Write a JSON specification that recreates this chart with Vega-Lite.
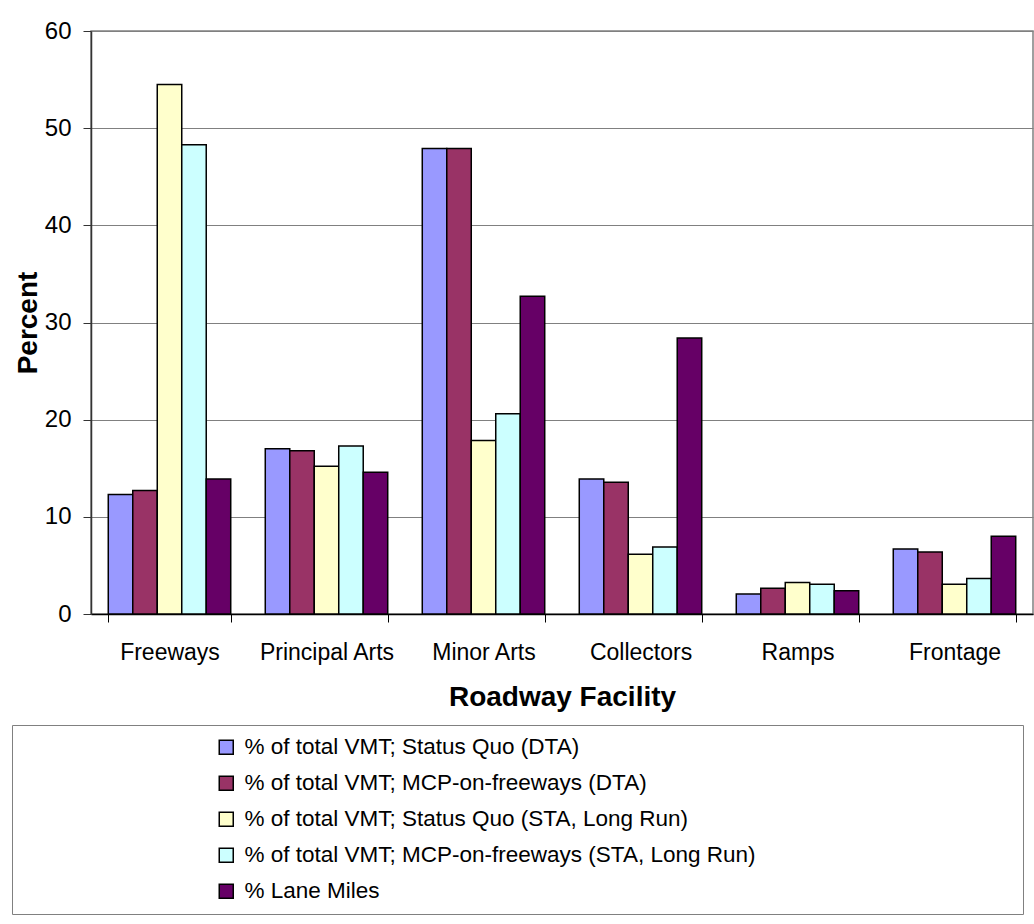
{
  "$schema": "https://vega.github.io/schema/vega-lite/v6.json",
  "autosize": "none",
  "padding": {"left": 91, "top": 31, "right": 1, "bottom": 310},
  "width": 942,
  "height": 583,
  "background": "white",
  "config": {
    "font": "Liberation Sans",
    "view": {"stroke": "#808080", "strokeWidth": 1.5}
  },
  "data": {
    "values": [
      {"facility": "Freeways", "series": "% of total VMT; Status Quo (DTA)", "value": 12.3},
      {"facility": "Freeways", "series": "% of total VMT; MCP-on-freeways (DTA)", "value": 12.7},
      {"facility": "Freeways", "series": "% of total VMT; Status Quo (STA, Long Run)", "value": 54.5},
      {"facility": "Freeways", "series": "% of total VMT; MCP-on-freeways (STA, Long Run)", "value": 48.3},
      {"facility": "Freeways", "series": "% Lane Miles", "value": 13.9},
      {"facility": "Principal Arts", "series": "% of total VMT; Status Quo (DTA)", "value": 17.0},
      {"facility": "Principal Arts", "series": "% of total VMT; MCP-on-freeways (DTA)", "value": 16.8},
      {"facility": "Principal Arts", "series": "% of total VMT; Status Quo (STA, Long Run)", "value": 15.2},
      {"facility": "Principal Arts", "series": "% of total VMT; MCP-on-freeways (STA, Long Run)", "value": 17.3},
      {"facility": "Principal Arts", "series": "% Lane Miles", "value": 14.6},
      {"facility": "Minor Arts", "series": "% of total VMT; Status Quo (DTA)", "value": 47.9},
      {"facility": "Minor Arts", "series": "% of total VMT; MCP-on-freeways (DTA)", "value": 47.9},
      {"facility": "Minor Arts", "series": "% of total VMT; Status Quo (STA, Long Run)", "value": 17.85},
      {"facility": "Minor Arts", "series": "% of total VMT; MCP-on-freeways (STA, Long Run)", "value": 20.6},
      {"facility": "Minor Arts", "series": "% Lane Miles", "value": 32.7},
      {"facility": "Collectors", "series": "% of total VMT; Status Quo (DTA)", "value": 13.9},
      {"facility": "Collectors", "series": "% of total VMT; MCP-on-freeways (DTA)", "value": 13.55},
      {"facility": "Collectors", "series": "% of total VMT; Status Quo (STA, Long Run)", "value": 6.15},
      {"facility": "Collectors", "series": "% of total VMT; MCP-on-freeways (STA, Long Run)", "value": 6.9},
      {"facility": "Collectors", "series": "% Lane Miles", "value": 28.4},
      {"facility": "Ramps", "series": "% of total VMT; Status Quo (DTA)", "value": 2.05},
      {"facility": "Ramps", "series": "% of total VMT; MCP-on-freeways (DTA)", "value": 2.64},
      {"facility": "Ramps", "series": "% of total VMT; Status Quo (STA, Long Run)", "value": 3.23},
      {"facility": "Ramps", "series": "% of total VMT; MCP-on-freeways (STA, Long Run)", "value": 3.07},
      {"facility": "Ramps", "series": "% Lane Miles", "value": 2.4},
      {"facility": "Frontage", "series": "% of total VMT; Status Quo (DTA)", "value": 6.7},
      {"facility": "Frontage", "series": "% of total VMT; MCP-on-freeways (DTA)", "value": 6.38},
      {"facility": "Frontage", "series": "% of total VMT; Status Quo (STA, Long Run)", "value": 3.07},
      {"facility": "Frontage", "series": "% of total VMT; MCP-on-freeways (STA, Long Run)", "value": 3.66},
      {"facility": "Frontage", "series": "% Lane Miles", "value": 8.0}
    ]
  },
  "mark": {"type": "bar", "stroke": "black", "strokeWidth": 1.5, "opacity": 1},
  "encoding": {
    "x": {
      "field": "facility",
      "type": "nominal",
      "sort": ["Freeways", "Principal Arts", "Minor Arts", "Collectors", "Ramps", "Frontage"],
      "scale": {"paddingInner": 0.22, "paddingOuter": 0.11},
      "axis": {
        "title": "Roadway Facility",
        "titleFont": "Liberation Sans",
        "titleFontSize": 28,
        "titleFontWeight": "bold",
        "titleColor": "black",
        "titlePadding": 19,
        "labelFont": "Liberation Sans",
        "labelFontSize": 23,
        "labelColor": "black",
        "labelAngle": 0,
        "labelPadding": 19,
        "domainColor": "black",
        "domainWidth": 1.5,
        "tickColor": "black",
        "tickSize": 8,
        "tickBand": "extent",
        "grid": false
      }
    },
    "xOffset": {
      "field": "series",
      "type": "nominal",
      "sort": [
        "% of total VMT; Status Quo (DTA)",
        "% of total VMT; MCP-on-freeways (DTA)",
        "% of total VMT; Status Quo (STA, Long Run)",
        "% of total VMT; MCP-on-freeways (STA, Long Run)",
        "% Lane Miles"
      ],
      "scale": {"paddingInner": 0, "paddingOuter": 0}
    },
    "y": {
      "field": "value",
      "type": "quantitative",
      "scale": {"domain": [0, 60], "nice": false},
      "axis": {
        "title": "Percent",
        "titleFont": "Liberation Sans",
        "titleFontSize": 28,
        "titleFontWeight": "bold",
        "titleColor": "black",
        "titlePadding": 2,
        "labelFont": "Liberation Sans",
        "labelFontSize": 24,
        "labelColor": "black",
        "labelPadding": 12,
        "values": [0, 10, 20, 30, 40, 50, 60],
        "domainColor": "#333333",
        "domainWidth": 1.5,
        "tickColor": "#333333",
        "tickSize": 8,
        "gridColor": "#808080",
        "gridWidth": 1
      }
    },
    "color": {
      "field": "series",
      "type": "nominal",
      "scale": {
        "domain": [
          "% of total VMT; Status Quo (DTA)",
          "% of total VMT; MCP-on-freeways (DTA)",
          "% of total VMT; Status Quo (STA, Long Run)",
          "% of total VMT; MCP-on-freeways (STA, Long Run)",
          "% Lane Miles"
        ],
        "range": ["#9999FF", "#993366", "#FFFFCC", "#CCFFFF", "#660066"]
      },
      "legend": {
        "title": " ",
        "titleOrient": "left",
        "titlePadding": 192,
        "titleFontSize": 10,
        "orient": "none",
        "legendX": -79,
        "legendY": 694,
        "direction": "vertical",
        "symbolType": "square",
        "symbolSize": 196,
        "symbolStrokeColor": "black",
        "symbolStrokeWidth": 1.5,
        "symbolFillOpacity": 1,
        "labelFont": "Liberation Sans",
        "labelFontSize": 22.5,
        "labelColor": "black",
        "labelLimit": 1000,
        "labelOffset": 7,
        "labelExpr": "datum.label + '\u00a0\u00a0\u00a0\u00a0\u00a0\u00a0\u00a0\u00a0\u00a0\u00a0\u00a0\u00a0\u00a0\u00a0\u00a0\u00a0\u00a0\u00a0\u00a0\u00a0\u00a0\u00a0\u00a0\u00a0\u00a0\u00a0\u00a0\u00a0\u00a0\u00a0\u00a0\u00a0\u00a0\u00a0\u00a0\u00a0\u00a0\u00a0\u00a0\u00a0\u00a0\u200b'",
        "rowPadding": 13,
        "padding": 11,
        "strokeColor": "#808080",
        "fillColor": "white"
      }
    }
  }
}
